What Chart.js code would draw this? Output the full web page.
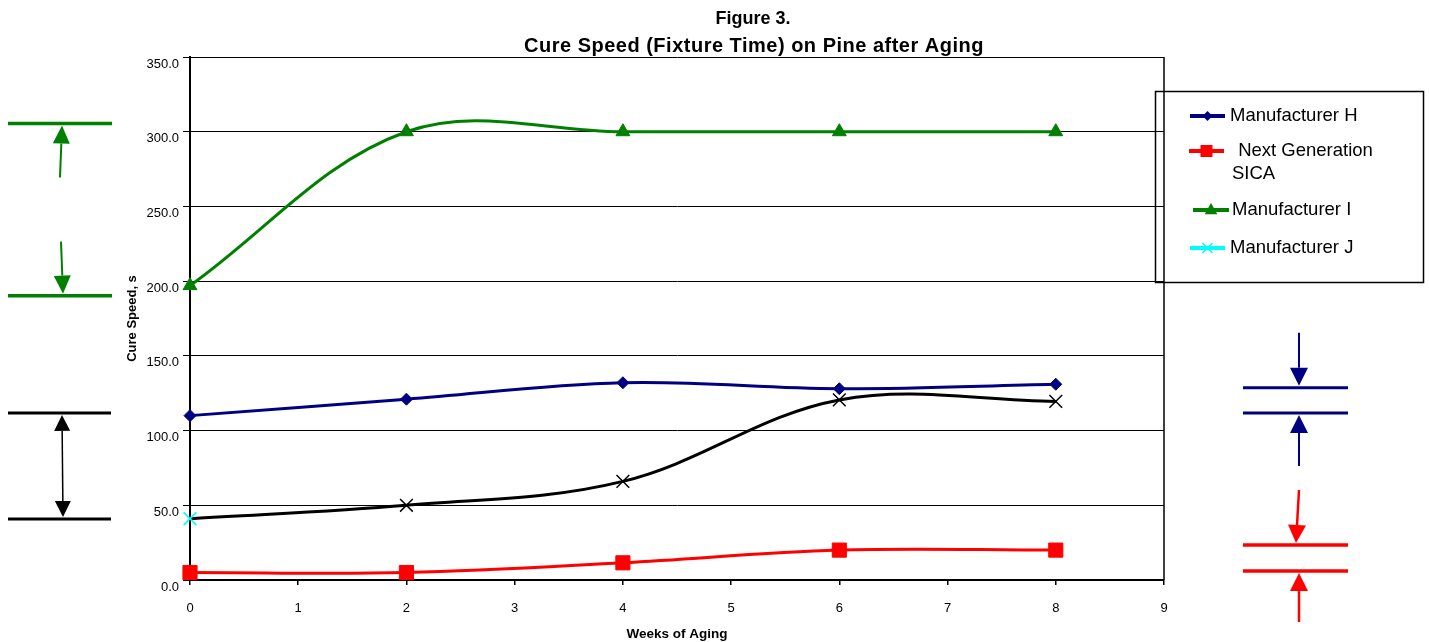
<!DOCTYPE html>
<html>
<head>
<meta charset="utf-8">
<script src="https://cdn.jsdelivr.net/npm/chart.js@4.4.1/dist/chart.umd.min.js"></script>
<style>
  html, body { margin: 0; padding: 0; background: #fff; overflow: hidden; }
</style>
</head>
<body>
<canvas id="cure" width="1429" height="642"></canvas>
<script>
// weeks of aging where readings were taken
const weeks = [0, 2, 4, 6, 8];
// cure speed (fixture time), seconds
const mfrH = [110, 121, 132, 128, 131];
const sica = [5, 5, 11.5, 20, 20];
const mfrI = [197, 300, 300, 300, 300];
const mfrJ = [41, 50, 66, 120.5, 119.5];
const seriesNames = ["Manufacturer H", "Next Generation SICA", "Manufacturer I", "Manufacturer J"];
const titleLines = ["Figure 3.", "Cure Speed (Fixture Time) on Pine after Aging"];
// spread brackets drawn beside the plot (values in seconds)
const greenRange = [305.5, 190.3];
const blackRange = [111.8, 40.8];
const navyRange = [128.6, 111.8];
const redRange = [23.4, 6.0];

const FONT = "'Liberation Sans', Arial, sans-serif";

function pts(vals) {
  return weeks.map((w, i) => ({ x: w, y: vals[i] }));
}

function marker(ctx, style, x, y, r, color) {
  ctx.fillStyle = color;
  ctx.strokeStyle = color;
  ctx.beginPath();
  if (style === "rectRot") {
    ctx.moveTo(x, y - r); ctx.lineTo(x + r, y); ctx.lineTo(x, y + r); ctx.lineTo(x - r, y);
    ctx.closePath(); ctx.fill();
  } else if (style === "rect") {
    ctx.rect(x - r, y - r, 2 * r, 2 * r); ctx.fill();
  } else if (style === "triangle") {
    ctx.moveTo(x, y - r); ctx.lineTo(x + r * 0.9, y + r * 0.6); ctx.lineTo(x - r * 0.9, y + r * 0.6);
    ctx.closePath(); ctx.fill();
  } else {
    ctx.lineWidth = 1.5;
    ctx.moveTo(x - r, y - r); ctx.lineTo(x + r, y + r);
    ctx.moveTo(x + r, y - r); ctx.lineTo(x - r, y + r);
    ctx.stroke();
  }
}

function arrow(ctx, x1, y1, x2, y2, color, w, len, half) {
  const ang = Math.atan2(y2 - y1, x2 - x1);
  const bx = x2 - Math.cos(ang) * len, by = y2 - Math.sin(ang) * len;
  ctx.strokeStyle = color; ctx.fillStyle = color; ctx.lineWidth = w;
  ctx.beginPath(); ctx.moveTo(x1, y1); ctx.lineTo(bx, by); ctx.stroke();
  ctx.beginPath();
  ctx.moveTo(x2, y2);
  ctx.lineTo(bx + Math.sin(ang) * half, by - Math.cos(ang) * half);
  ctx.lineTo(bx - Math.sin(ang) * half, by + Math.cos(ang) * half);
  ctx.closePath(); ctx.fill();
}

function hline(ctx, x1, x2, y, color, w) {
  ctx.strokeStyle = color; ctx.lineWidth = w;
  ctx.beginPath(); ctx.moveTo(x1, y); ctx.lineTo(x2, y); ctx.stroke();
}

const decor = {
  id: "decor",
  afterDraw(chart) {
    const { ctx, chartArea: a } = chart;
    const y = chart.scales.y;
    ctx.save();

    // plot frame on the right
    ctx.strokeStyle = "#000"; ctx.lineWidth = 1.5;
    ctx.beginPath(); ctx.moveTo(a.right, a.top); ctx.lineTo(a.right, a.bottom); ctx.stroke();

    // title
    ctx.fillStyle = "#000";
    ctx.textAlign = "center"; ctx.textBaseline = "middle";
    ctx.font = "bold 18px " + FONT;
    ctx.fillText(titleLines[0], 753, 19);
    ctx.font = "bold 20px " + FONT;
    ctx.letterSpacing = "0.5px";
    ctx.fillText(titleLines[1], 754, 46);
    ctx.letterSpacing = "0px";

    // legend
    ctx.lineWidth = 1.5; ctx.strokeStyle = "#000";
    ctx.strokeRect(1155.5, 91.5, 268, 191);
    const rowY = [116, 151, 210, 248];
    const lineX = [[1190, 1225], [1189, 1224], [1193, 1229], [1190, 1225]];
    const textX = [1230, 1233, 1232, 1230];
    const sizes = [5, 6, 7, 5];
    ctx.font = "18.5px " + FONT;
    ctx.textAlign = "left";
    chart.data.datasets.forEach((ds, i) => {
      const col = Array.isArray(ds.pointBorderColor) ? ds.pointBorderColor[0] : ds.borderColor;
      hline(ctx, lineX[i][0], lineX[i][1], rowY[i], col, 4);
      marker(ctx, ds.pointStyle, (lineX[i][0] + lineX[i][1]) / 2, rowY[i], sizes[i], col);
      ctx.fillStyle = "#000";
      const label = ds.label;
      if (ctx.measureText(label).width > 170) {
        const cut = label.lastIndexOf(" ");
        ctx.fillText(" " + label.slice(0, cut), textX[i], rowY[i]);
        ctx.fillText(label.slice(cut + 1), textX[i] - 1, rowY[i] + 23);
      } else {
        ctx.fillText(label, textX[i], rowY[i]);
      }
    });

    // left brackets
    const gT = y.getPixelForValue(greenRange[0]), gB = y.getPixelForValue(greenRange[1]);
    hline(ctx, 8, 112, gT, "#008000", 3.5);
    hline(ctx, 8, 112, gB, "#008000", 3.5);
    arrow(ctx, 60, gT + 54, 62, gT + 2, "#008000", 2, 18, 8.5);
    arrow(ctx, 61, gB - 54, 63, gB - 2, "#008000", 2, 18, 8.5);

    const kT = y.getPixelForValue(blackRange[0]), kB = y.getPixelForValue(blackRange[1]);
    hline(ctx, 8, 111, kT, "#000", 3);
    hline(ctx, 8, 111, kB, "#000", 3);
    arrow(ctx, 62.5, (kT + kB) / 2, 62, kT + 2, "#000", 1.5, 16, 8);
    arrow(ctx, 62.5, (kT + kB) / 2, 63, kB - 2, "#000", 1.5, 16, 8);

    // right brackets
    const nT = y.getPixelForValue(navyRange[0]), nB = y.getPixelForValue(navyRange[1]);
    hline(ctx, 1243, 1348, nT, "#000080", 3);
    hline(ctx, 1243, 1348, nB, "#000080", 3);
    arrow(ctx, 1299, nT - 55, 1299, nT - 2, "#000080", 2, 18, 9);
    arrow(ctx, 1299, nB + 53, 1299, nB + 2, "#000080", 2, 18, 9);

    const rT = y.getPixelForValue(redRange[0]), rB = y.getPixelForValue(redRange[1]);
    hline(ctx, 1243, 1348, rT, "#ff0000", 3.5);
    hline(ctx, 1243, 1348, rB, "#ff0000", 3.5);
    arrow(ctx, 1299, rT - 55, 1296, rT - 2, "#ff0000", 2.5, 18, 9);
    arrow(ctx, 1299, rB + 51, 1299, rB + 2, "#ff0000", 2.5, 18, 9);

    ctx.restore();
  }
};

new Chart(document.getElementById("cure"), {
  type: "line",
  data: {
    datasets: [
      {
        label: seriesNames[0], data: pts(mfrH),
        borderColor: "#000080", backgroundColor: "#000080",
        pointStyle: "rectRot", pointRadius: 6, pointBorderColor: "#000080", pointBackgroundColor: "#000080"
      },
      {
        label: seriesNames[1], data: pts(sica),
        borderColor: "#ff0000", backgroundColor: "#ff0000",
        pointStyle: "rect", pointRadius: 10, pointBorderColor: "#ff0000", pointBackgroundColor: "#ff0000"
      },
      {
        label: seriesNames[2], data: pts(mfrI),
        borderColor: "#008000", backgroundColor: "#008000",
        pointStyle: "triangle", pointRadius: 8, pointBorderColor: "#008000", pointBackgroundColor: "#008000"
      },
      {
        label: seriesNames[3], data: pts(mfrJ),
        borderColor: "#000000", backgroundColor: "#000000",
        pointStyle: "crossRot", pointRadius: 9, pointBorderWidth: 1.5,
        pointBorderColor: ["#00ffff", "#000", "#000", "#000", "#000"]
      }
    ]
  },
  options: {
    responsive: false,
    animation: false,
    devicePixelRatio: 1,
    layout: { padding: { top: 57, right: 265, bottom: 0, left: 0 } },
    elements: {
      line: { tension: 0.36, borderWidth: 3, fill: false },
      point: { borderWidth: 1, hoverRadius: 6 }
    },
    datasets: { line: { clip: false } },
    plugins: {
      legend: { display: false },
      title: { display: false },
      tooltip: { enabled: false }
    },
    scales: {
      x: {
        type: "linear", min: 0, max: 9,
        afterFit: s => { s.height = 62; },
        ticks: { stepSize: 1, color: "#000", padding: 16, font: { family: FONT, size: 13 } },
        grid: { drawOnChartArea: false, drawTicks: true, tickLength: 5, color: "#000", lineWidth: 1.5 },
        border: { color: "#000", width: 2 },
        title: { display: true, text: "Weeks of Aging", color: "#000", padding: { top: 0, bottom: 0 },
                 font: { family: FONT, size: 13.5, weight: "bold" } }
      },
      y: {
        min: 0, max: 350,
        afterFit: s => { s.width = 190; },
        ticks: { stepSize: 50, color: "#000", padding: 4, labelOffset: 7,
                 callback: v => v.toFixed(1), font: { family: FONT, size: 13 } },
        grid: { color: "#000", lineWidth: 1, tickLength: 7 },
        border: { color: "#000", width: 2 },
        title: { display: true, text: "Cure Speed, s", color: "#000", padding: { top: 125, bottom: 0 },
                 font: { family: FONT, size: 13, weight: "bold" } }
      }
    }
  },
  plugins: [decor]
});
</script>
</body>
</html>
